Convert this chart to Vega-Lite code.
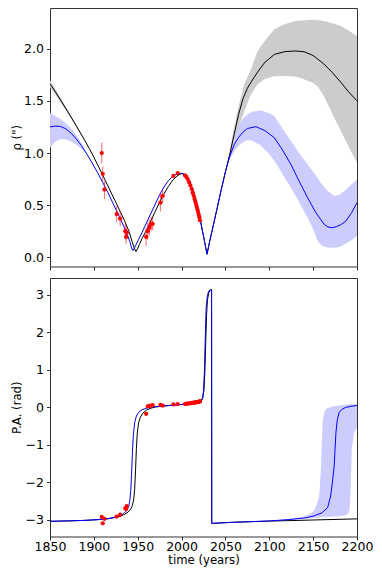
{
  "$schema": "https://vega.github.io/schema/vega-lite/v6.json",
  "padding": {"left": 11, "top": 7, "right": 5, "bottom": 5},
  "spacing": 6,
  "config": {
    "font": "DejaVu Sans",
    "view": {"stroke": "#333333", "strokeWidth": 1},
    "axis": {
      "domain": false, "grid": false, "ticks": true, "tickSize": 3.5, "tickColor": "#000000", "tickWidth": 0.8,
      "labelFont": "DejaVu Sans", "labelFontSize": 12.5, "labelColor": "#000000", "labelOverlap": false, "labelFlush": false,
      "titleFont": "DejaVu Sans", "titleFontSize": 11.7, "titleFontWeight": "normal", "titleColor": "#000000"
    },
    "axisX": {"labelPadding": 0.5, "titlePadding": 1},
    "axisY": {"labelPadding": 3, "titleX": -33.5, "titleBaseline": "middle"}
  },
  "datasets": {
    "rho_line": [
      {"m":"k","t":1850,"v":1.665},{"m":"k","t":1860,"v":1.535},{"m":"k","t":1870,"v":1.4},{"m":"k","t":1880,"v":1.26},{"m":"k","t":1890,"v":1.115},{"m":"k","t":1895,"v":1.04},{"m":"k","t":1900,"v":0.96},{"m":"k","t":1910,"v":0.79},{"m":"k","t":1920,"v":0.615},{"m":"k","t":1930,"v":0.44},{"m":"k","t":1935,"v":0.35},{"m":"k","t":1940,"v":0.25},{"m":"k","t":1944,"v":0.14},{"m":"k","t":1946,"v":0.09},{"m":"k","t":1948,"v":0.055},{"m":"k","t":1950,"v":0.085},{"m":"k","t":1952,"v":0.125},{"m":"k","t":1955,"v":0.18},{"m":"k","t":1960,"v":0.26},{"m":"k","t":1965,"v":0.35},{"m":"k","t":1970,"v":0.44},{"m":"k","t":1975,"v":0.53},{"m":"k","t":1980,"v":0.61},{"m":"k","t":1985,"v":0.68},{"m":"k","t":1990,"v":0.74},{"m":"k","t":1995,"v":0.78},{"m":"k","t":2000,"v":0.805},{"m":"k","t":2003,"v":0.795},{"m":"k","t":2006,"v":0.77},{"m":"k","t":2010,"v":0.71},{"m":"k","t":2014,"v":0.62},{"m":"k","t":2018,"v":0.49},{"m":"k","t":2022,"v":0.33},{"m":"k","t":2026,"v":0.16},{"m":"k","t":2029,"v":0.03},{"m":"k","t":2032,"v":0.15},{"m":"k","t":2036,"v":0.3},{"m":"k","t":2040,"v":0.45},{"m":"k","t":2045,"v":0.64},{"m":"k","t":2050,"v":0.82},{"m":"k","t":2055,"v":0.99},{"m":"k","t":2060,"v":1.18},{"m":"k","t":2065,"v":1.37},{"m":"k","t":2070,"v":1.52},{"m":"k","t":2075,"v":1.62},{"m":"k","t":2080,"v":1.69},{"m":"k","t":2087,"v":1.78},{"m":"k","t":2095,"v":1.87},{"m":"k","t":2106,"v":1.946},{"m":"k","t":2118,"v":1.972},{"m":"k","t":2130,"v":1.978},{"m":"k","t":2140,"v":1.97},{"m":"k","t":2150,"v":1.935},{"m":"k","t":2162,"v":1.855},{"m":"k","t":2172,"v":1.77},{"m":"k","t":2182,"v":1.674},{"m":"k","t":2190,"v":1.59},{"m":"k","t":2200,"v":1.5},
      {"m":"b","t":1850,"v":1.25},{"m":"b","t":1856,"v":1.258},{"m":"b","t":1862,"v":1.255},{"m":"b","t":1868,"v":1.232},{"m":"b","t":1874,"v":1.19},{"m":"b","t":1880,"v":1.135},{"m":"b","t":1886,"v":1.07},{"m":"b","t":1892,"v":0.99},{"m":"b","t":1898,"v":0.905},{"m":"b","t":1904,"v":0.815},{"m":"b","t":1910,"v":0.72},{"m":"b","t":1916,"v":0.62},{"m":"b","t":1922,"v":0.515},{"m":"b","t":1928,"v":0.41},{"m":"b","t":1934,"v":0.3},{"m":"b","t":1938,"v":0.22},{"m":"b","t":1941,"v":0.15},{"m":"b","t":1943,"v":0.09},{"m":"b","t":1944.5,"v":0.065},{"m":"b","t":1946,"v":0.085},{"m":"b","t":1948,"v":0.12},{"m":"b","t":1951,"v":0.17},{"m":"b","t":1955,"v":0.24},{"m":"b","t":1960,"v":0.33},{"m":"b","t":1965,"v":0.42},{"m":"b","t":1970,"v":0.51},{"m":"b","t":1975,"v":0.6},{"m":"b","t":1980,"v":0.675},{"m":"b","t":1985,"v":0.735},{"m":"b","t":1990,"v":0.775},{"m":"b","t":1995,"v":0.8},{"m":"b","t":1999,"v":0.805},{"m":"b","t":2003,"v":0.795},{"m":"b","t":2006,"v":0.77},{"m":"b","t":2010,"v":0.71},{"m":"b","t":2014,"v":0.62},{"m":"b","t":2018,"v":0.49},{"m":"b","t":2022,"v":0.33},{"m":"b","t":2026,"v":0.16},{"m":"b","t":2029,"v":0.03},{"m":"b","t":2032,"v":0.15},{"m":"b","t":2036,"v":0.3},{"m":"b","t":2040,"v":0.45},{"m":"b","t":2045,"v":0.64},{"m":"b","t":2050,"v":0.82},{"m":"b","t":2055,"v":0.97},{"m":"b","t":2060,"v":1.08},{"m":"b","t":2065,"v":1.15},{"m":"b","t":2070,"v":1.2},{"m":"b","t":2075,"v":1.235},{"m":"b","t":2084.8,"v":1.252},{"m":"b","t":2095,"v":1.215},{"m":"b","t":2105.7,"v":1.147},{"m":"b","t":2115,"v":1.03},{"m":"b","t":2124.7,"v":0.89},{"m":"b","t":2134,"v":0.73},{"m":"b","t":2143.7,"v":0.571},{"m":"b","t":2153,"v":0.43},{"m":"b","t":2162.6,"v":0.316},{"m":"b","t":2167,"v":0.29},{"m":"b","t":2172,"v":0.284},{"m":"b","t":2177,"v":0.295},{"m":"b","t":2182,"v":0.315},{"m":"b","t":2187.4,"v":0.348},{"m":"b","t":2194,"v":0.43},{"m":"b","t":2200,"v":0.523}
    ],
    "rho_band": [
      {"m":"k","seg":1,"t":1850,"lo":1.63,"hi":1.7},{"m":"k","seg":1,"t":1860,"lo":1.51,"hi":1.56},{"m":"k","seg":1,"t":1870,"lo":1.385,"hi":1.415},{"m":"k","seg":1,"t":1880,"lo":1.25,"hi":1.27},{"m":"k","seg":1,"t":1890,"lo":1.11,"hi":1.12},{"m":"k","seg":1,"t":1900,"lo":0.96,"hi":0.96},
      {"m":"k","seg":2,"t":2050,"lo":0.82,"hi":0.82},{"m":"k","seg":2,"t":2055,"lo":0.96,"hi":1.02},{"m":"k","seg":2,"t":2060,"lo":1.1,"hi":1.25},{"m":"k","seg":2,"t":2065,"lo":1.24,"hi":1.45},{"m":"k","seg":2,"t":2071.5,"lo":1.4,"hi":1.66},{"m":"k","seg":2,"t":2079,"lo":1.56,"hi":1.8},{"m":"k","seg":2,"t":2086.7,"lo":1.66,"hi":1.978},{"m":"k","seg":2,"t":2094.3,"lo":1.707,"hi":2.07},{"m":"k","seg":2,"t":2105.7,"lo":1.735,"hi":2.186},{"m":"k","seg":2,"t":2117,"lo":1.738,"hi":2.235},{"m":"k","seg":2,"t":2130,"lo":1.73,"hi":2.266},{"m":"k","seg":2,"t":2136,"lo":1.72,"hi":2.27},{"m":"k","seg":2,"t":2150,"lo":1.67,"hi":2.277},{"m":"k","seg":2,"t":2155,"lo":1.64,"hi":2.275},{"m":"k","seg":2,"t":2162,"lo":1.55,"hi":2.265},{"m":"k","seg":2,"t":2174,"lo":1.34,"hi":2.24},{"m":"k","seg":2,"t":2181.7,"lo":1.21,"hi":2.218},{"m":"k","seg":2,"t":2187,"lo":1.12,"hi":2.19},{"m":"k","seg":2,"t":2193,"lo":1.02,"hi":2.16},{"m":"k","seg":2,"t":2200,"lo":0.907,"hi":2.12},
      {"m":"b","seg":3,"t":1850,"lo":1.05,"hi":1.386},{"m":"b","seg":3,"t":1856,"lo":1.11,"hi":1.355},{"m":"b","seg":3,"t":1862,"lo":1.135,"hi":1.325},{"m":"b","seg":3,"t":1868,"lo":1.13,"hi":1.285},{"m":"b","seg":3,"t":1874,"lo":1.11,"hi":1.235},{"m":"b","seg":3,"t":1880,"lo":1.08,"hi":1.17},{"m":"b","seg":3,"t":1886,"lo":1.04,"hi":1.09},{"m":"b","seg":3,"t":1892,"lo":0.985,"hi":0.995},{"m":"b","seg":3,"t":1898,"lo":0.905,"hi":0.905},
      {"m":"b","seg":4,"t":2050,"lo":0.82,"hi":0.82},{"m":"b","seg":4,"t":2055,"lo":0.94,"hi":1.0},{"m":"b","seg":4,"t":2060,"lo":1.02,"hi":1.15},{"m":"b","seg":4,"t":2065,"lo":1.07,"hi":1.26},{"m":"b","seg":4,"t":2070,"lo":1.105,"hi":1.33},{"m":"b","seg":4,"t":2075,"lo":1.125,"hi":1.37},{"m":"b","seg":4,"t":2080,"lo":1.12,"hi":1.395},{"m":"b","seg":4,"t":2090,"lo":1.075,"hi":1.409},{"m":"b","seg":4,"t":2100,"lo":0.99,"hi":1.38},{"m":"b","seg":4,"t":2105.7,"lo":0.923,"hi":1.355},{"m":"b","seg":4,"t":2110,"lo":0.87,"hi":1.3},{"m":"b","seg":4,"t":2117,"lo":0.77,"hi":1.21},{"m":"b","seg":4,"t":2124.7,"lo":0.667,"hi":1.115},{"m":"b","seg":4,"t":2134,"lo":0.53,"hi":1.0},{"m":"b","seg":4,"t":2143.7,"lo":0.38,"hi":0.89},{"m":"b","seg":4,"t":2150,"lo":0.27,"hi":0.82},{"m":"b","seg":4,"t":2155,"lo":0.16,"hi":0.76},{"m":"b","seg":4,"t":2160,"lo":0.11,"hi":0.7},{"m":"b","seg":4,"t":2166,"lo":0.095,"hi":0.64},{"m":"b","seg":4,"t":2174,"lo":0.092,"hi":0.588},{"m":"b","seg":4,"t":2180,"lo":0.1,"hi":0.6},{"m":"b","seg":4,"t":2187,"lo":0.13,"hi":0.645},{"m":"b","seg":4,"t":2194,"lo":0.165,"hi":0.7},{"m":"b","seg":4,"t":2200,"lo":0.204,"hi":0.748}
    ],
    "pa_line": [
      {"m":"k","t":1850,"v":-3.045},{"m":"k","t":1870,"v":-3.035},{"m":"k","t":1890,"v":-3.02},{"m":"k","t":1905,"v":-3.0},{"m":"k","t":1915,"v":-2.98},{"m":"k","t":1925,"v":-2.94},{"m":"k","t":1930,"v":-2.91},{"m":"k","t":1935,"v":-2.86},{"m":"k","t":1939,"v":-2.8},{"m":"k","t":1942,"v":-2.72},{"m":"k","t":1944,"v":-2.62},{"m":"k","t":1945.5,"v":-2.45},{"m":"k","t":1946.5,"v":-2.2},{"m":"k","t":1947.5,"v":-1.7},{"m":"k","t":1948.5,"v":-1.1},{"m":"k","t":1949.5,"v":-0.7},{"m":"k","t":1951,"v":-0.42},{"m":"k","t":1953,"v":-0.27},{"m":"k","t":1956,"v":-0.16},{"m":"k","t":1960,"v":-0.08},{"m":"k","t":1965,"v":-0.03},{"m":"k","t":1970,"v":0.0},{"m":"k","t":1980,"v":0.03},{"m":"k","t":1990,"v":0.05},{"m":"k","t":2000,"v":0.07},{"m":"k","t":2008,"v":0.09},{"m":"k","t":2014,"v":0.11},{"m":"k","t":2019,"v":0.14},{"m":"k","t":2022,"v":0.18},{"m":"k","t":2024,"v":0.24},{"m":"k","t":2025.5,"v":0.45},{"m":"k","t":2026.5,"v":0.9},{"m":"k","t":2027.5,"v":1.7},{"m":"k","t":2028.5,"v":2.45},{"m":"k","t":2029.5,"v":2.85},{"m":"k","t":2031,"v":3.05},{"m":"k","t":2033,"v":3.12},{"m":"k","t":2034.2,"v":3.13},{"m":"k","t":2034.4,"v":-3.1},{"m":"k","t":2060,"v":-3.07},{"m":"k","t":2100,"v":-3.04},{"m":"k","t":2150,"v":-3.01},{"m":"k","t":2200,"v":-2.98},
      {"m":"b","t":1850,"v":-3.045},{"m":"b","t":1870,"v":-3.035},{"m":"b","t":1890,"v":-3.02},{"m":"b","t":1905,"v":-3.0},{"m":"b","t":1915,"v":-2.98},{"m":"b","t":1925,"v":-2.93},{"m":"b","t":1930,"v":-2.89},{"m":"b","t":1934,"v":-2.84},{"m":"b","t":1937,"v":-2.77},{"m":"b","t":1939.5,"v":-2.67},{"m":"b","t":1941,"v":-2.5},{"m":"b","t":1942,"v":-2.25},{"m":"b","t":1943,"v":-1.8},{"m":"b","t":1944,"v":-1.2},{"m":"b","t":1945,"v":-0.75},{"m":"b","t":1946.5,"v":-0.42},{"m":"b","t":1948.5,"v":-0.24},{"m":"b","t":1951,"v":-0.14},{"m":"b","t":1955,"v":-0.07},{"m":"b","t":1960,"v":-0.03},{"m":"b","t":1965,"v":0.0},{"m":"b","t":1970,"v":0.01},{"m":"b","t":1980,"v":0.03},{"m":"b","t":1990,"v":0.05},{"m":"b","t":2000,"v":0.07},{"m":"b","t":2008,"v":0.09},{"m":"b","t":2014,"v":0.11},{"m":"b","t":2019,"v":0.13},{"m":"b","t":2022,"v":0.16},{"m":"b","t":2024,"v":0.21},{"m":"b","t":2025,"v":0.45},{"m":"b","t":2026,"v":0.93},{"m":"b","t":2027,"v":1.85},{"m":"b","t":2028,"v":2.65},{"m":"b","t":2029.5,"v":2.98},{"m":"b","t":2031,"v":3.09},{"m":"b","t":2033.4,"v":3.13},{"m":"b","t":2034.2,"v":3.13},{"m":"b","t":2034.4,"v":-3.1},{"m":"b","t":2060,"v":-3.07},{"m":"b","t":2100,"v":-3.035},{"m":"b","t":2122,"v":-3.0},{"m":"b","t":2142,"v":-2.95},{"m":"b","t":2151,"v":-2.9},{"m":"b","t":2160,"v":-2.82},{"m":"b","t":2166.5,"v":-2.68},{"m":"b","t":2170,"v":-2.37},{"m":"b","t":2172,"v":-2.0},{"m":"b","t":2174,"v":-1.57},{"m":"b","t":2175,"v":-1.1},{"m":"b","t":2176,"v":-0.68},{"m":"b","t":2177.5,"v":-0.35},{"m":"b","t":2179.7,"v":-0.14},{"m":"b","t":2183,"v":-0.06},{"m":"b","t":2187,"v":-0.01},{"m":"b","t":2193,"v":0.02},{"m":"b","t":2200,"v":0.04}
    ],
    "pa_band": [
      {"t":2100,"lo":-3.035,"hi":-3.035},{"t":2120,"lo":-3.01,"hi":-2.99},{"t":2130,"lo":-2.995,"hi":-2.96},{"t":2138,"lo":-2.98,"hi":-2.93},{"t":2145,"lo":-2.97,"hi":-2.86},{"t":2151,"lo":-2.96,"hi":-2.77},{"t":2154,"lo":-2.95,"hi":-2.6},{"t":2157,"lo":-2.945,"hi":-2.37},{"t":2158,"lo":-2.94,"hi":-2.0},{"t":2159,"lo":-2.94,"hi":-1.57},{"t":2160.7,"lo":-2.935,"hi":-0.41},{"t":2162.5,"lo":-2.93,"hi":-0.15},{"t":2164.6,"lo":-2.93,"hi":-0.05},{"t":2170,"lo":-2.925,"hi":0.0},{"t":2179.7,"lo":-2.91,"hi":0.04},{"t":2186,"lo":-2.89,"hi":0.06},{"t":2189,"lo":-2.86,"hi":0.065},{"t":2191,"lo":-2.8,"hi":0.07},{"t":2192,"lo":-2.63,"hi":0.072},{"t":2193,"lo":-2.01,"hi":0.074},{"t":2194,"lo":-1.12,"hi":0.076},{"t":2196.8,"lo":-0.68,"hi":0.078},{"t":2200,"lo":-0.54,"hi":0.08}
    ],
    "obs": [
      {"t":1909.0,"rho":1.0,"lo":0.9,"hi":1.1,"pa":-2.93},
      {"t":1910.1,"rho":0.8,"lo":0.73,"hi":0.87,"pa":-3.1},
      {"t":1912.0,"rho":0.65,"lo":0.56,"hi":0.73,"pa":-2.98},
      {"t":1926.0,"rho":0.415,"lo":0.34,"hi":0.49,"pa":-2.92},
      {"t":1930.0,"rho":0.37,"lo":0.3,"hi":0.44,"pa":-2.87},
      {"t":1935.8,"rho":0.25,"lo":0.17,"hi":0.33,"pa":-2.7},
      {"t":1936.8,"rho":0.195,"lo":0.13,"hi":0.27,"pa":-2.72},
      {"t":1937.5,"rho":0.236,"lo":0.18,"hi":0.3,"pa":-2.64},
      {"t":1959.6,"rho":0.195,"lo":0.11,"hi":0.28,"pa":-0.18},
      {"t":1961.4,"rho":0.25,"lo":0.17,"hi":0.33,"pa":0.02},
      {"t":1963.3,"rho":0.284,"lo":0.21,"hi":0.36,"pa":0.03},
      {"t":1965.2,"rho":0.316,"lo":0.25,"hi":0.39,"pa":0.04},
      {"t":1967.0,"rho":0.32,"lo":0.26,"hi":0.38,"pa":0.05},
      {"t":1975.8,"rho":0.524,"lo":0.44,"hi":0.61,"pa":0.06},
      {"t":1978.5,"rho":0.588,"lo":0.52,"hi":0.65,"pa":0.04},
      {"t":1990.7,"rho":0.78,"lo":0.77,"hi":0.79,"pa":0.07},
      {"t":1995.6,"rho":0.808,"lo":0.8,"hi":0.816,"pa":0.08},
      {"t":2004.0,"rho":0.785,"lo":0.78,"hi":0.79,"pa":0.08},
      {"t":2005.5,"rho":0.77,"lo":0.765,"hi":0.775,"pa":0.09},
      {"t":2007.0,"rho":0.75,"lo":0.745,"hi":0.755,"pa":0.09},
      {"t":2008.5,"rho":0.72,"lo":0.715,"hi":0.725,"pa":0.1},
      {"t":2010.0,"rho":0.69,"lo":0.685,"hi":0.695,"pa":0.1},
      {"t":2011.5,"rho":0.655,"lo":0.65,"hi":0.66,"pa":0.11},
      {"t":2012.7,"rho":0.62,"lo":0.615,"hi":0.625,"pa":0.11},
      {"t":2013.8,"rho":0.59,"lo":0.585,"hi":0.595,"pa":0.12},
      {"t":2014.8,"rho":0.56,"lo":0.555,"hi":0.565,"pa":0.12},
      {"t":2015.7,"rho":0.535,"lo":0.53,"hi":0.54,"pa":0.12},
      {"t":2016.5,"rho":0.51,"lo":0.505,"hi":0.515,"pa":0.13},
      {"t":2017.2,"rho":0.485,"lo":0.48,"hi":0.49,"pa":0.13},
      {"t":2018.0,"rho":0.46,"lo":0.455,"hi":0.465,"pa":0.13},
      {"t":2018.8,"rho":0.435,"lo":0.43,"hi":0.44,"pa":0.14},
      {"t":2019.5,"rho":0.41,"lo":0.405,"hi":0.415,"pa":0.14},
      {"t":2020.3,"rho":0.385,"lo":0.38,"hi":0.39,"pa":0.15},
      {"t":2021.0,"rho":0.355,"lo":0.35,"hi":0.36,"pa":0.15}
    ]
  },
  "vconcat": [
    {
      "width": 307, "height": 258.5,
      "encoding": {
        "x": {"field": "t", "type": "quantitative", "scale": {"domain": [1850, 2200], "nice": false, "zero": false},
              "axis": {"values": [1850, 1900, 1950, 2000, 2050, 2100, 2150, 2200], "labels": false, "title": null}}
      },
      "layer": [
        {"data": {"name": "rho_band"}, "transform": [{"filter": "datum.m == 'k'"}],
         "mark": {"type": "area", "color": "#cccccc", "clip": true},
         "encoding": {"y": {"field": "lo", "type": "quantitative", "title": "ρ (\")", "scale": {"domain": [-0.088, 2.39], "nice": false, "zero": false}, "axis": {"values": [0, 0.5, 1, 1.5, 2], "format": ".1f"}},
                      "y2": {"field": "hi"}, "detail": {"field": "seg"}}},
        {"data": {"name": "rho_band"}, "transform": [{"filter": "datum.m == 'b'"}],
         "mark": {"type": "area", "color": "#ccccff", "clip": true},
         "encoding": {"y": {"field": "lo", "type": "quantitative", "title": "ρ (\")"}, "y2": {"field": "hi"}, "detail": {"field": "seg"}}},
        {"data": {"name": "rho_line"}, "transform": [{"filter": "datum.m == 'k'"}],
         "mark": {"type": "line", "color": "#000000", "strokeWidth": 1, "clip": true},
         "encoding": {"y": {"field": "v", "type": "quantitative", "title": "ρ (\")"}}},
        {"data": {"name": "rho_line"}, "transform": [{"filter": "datum.m == 'b'"}],
         "mark": {"type": "line", "color": "#0000ff", "strokeWidth": 1, "clip": true},
         "encoding": {"y": {"field": "v", "type": "quantitative", "title": "ρ (\")"}}},
        {"data": {"name": "obs"},
         "mark": {"type": "rule", "color": "#ff0000", "opacity": 0.6, "strokeWidth": 1},
         "encoding": {"y": {"field": "lo", "type": "quantitative", "title": "ρ (\")"}, "y2": {"field": "hi"}}},
        {"data": {"name": "obs"},
         "mark": {"type": "circle", "color": "#ff0000", "opacity": 1, "size": 18},
         "encoding": {"y": {"field": "rho", "type": "quantitative", "title": "ρ (\")"}}}
      ]
    },
    {
      "width": 307, "height": 258.5,
      "encoding": {
        "x": {"field": "t", "type": "quantitative", "title": "time (years)", "scale": {"domain": [1850, 2200], "nice": false, "zero": false},
              "axis": {"values": [1850, 1900, 1950, 2000, 2050, 2100, 2150, 2200], "format": "d"}}
      },
      "layer": [
        {"data": {"name": "pa_band"},
         "mark": {"type": "area", "color": "#ccccff", "clip": true},
         "encoding": {"y": {"field": "lo", "type": "quantitative", "title": "P.A. (rad)", "scale": {"domain": [-3.45, 3.44], "nice": false, "zero": false}, "axis": {"values": [-3, -2, -1, 0, 1, 2, 3], "format": "d"}},
                      "y2": {"field": "hi"}}},
        {"data": {"name": "pa_line"}, "transform": [{"filter": "datum.m == 'k'"}],
         "mark": {"type": "line", "color": "#000000", "strokeWidth": 1, "clip": true},
         "encoding": {"y": {"field": "v", "type": "quantitative", "title": "P.A. (rad)"}}},
        {"data": {"name": "pa_line"}, "transform": [{"filter": "datum.m == 'b'"}],
         "mark": {"type": "line", "color": "#0000ff", "strokeWidth": 1, "clip": true},
         "encoding": {"y": {"field": "v", "type": "quantitative", "title": "P.A. (rad)"}}},
        {"data": {"name": "obs"},
         "mark": {"type": "circle", "color": "#ff0000", "opacity": 1, "size": 18},
         "encoding": {"y": {"field": "pa", "type": "quantitative", "title": "P.A. (rad)"}}}
      ]
    }
  ]
}
